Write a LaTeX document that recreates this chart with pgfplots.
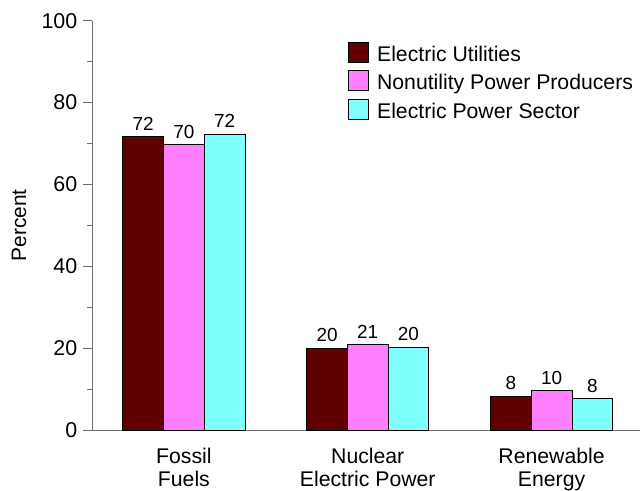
\documentclass[border=0pt]{standalone}
\usepackage{fontspec}
\setmainfont{Liberation Sans}
\usepackage{pgfplots}
\pgfplotsset{compat=1.18}

\definecolor{UtilFill}{HTML}{600000}
\definecolor{NonutilFill}{HTML}{FF80FF}
\definecolor{SectorFill}{HTML}{80FFFF}
\definecolor{AxisGray}{HTML}{6E6E6E}

\pgfplotsset{
  sqbar/.style={fill=#1, draw=black, line width=0.8bp,
    legend image code/.code={\draw[##1] (0bp,-1bp) rectangle (20.6bp,19bp);}},
}

\begin{document}
\begin{tikzpicture}
  \begin{axis}[
      scale only axis, width=548bp, height=409.3bp,
      ybar=0pt, bar width=40.7bp,
      xmin=-0.5, xmax=2.481, ymin=0, ymax=100,
      axis lines*=left,
      axis line style={AxisGray, line width=0.8bp},
      xtick={0,1,2},
      xticklabels={{Fossil\\Fuels},{Nuclear\\Electric Power},{Renewable\\Energy}},
      xtick style={draw=none},
      xticklabel style={align=center, font=\fontsize{21.3}{24}\selectfont, inner sep=0pt, yshift=-8.5bp},
      ytick={0,20,...,100}, minor y tick num=1,
      tick align=outside, major tick length=9bp, minor tick length=4.5bp,
      ytick style={AxisGray, line width=0.8bp},
      yticklabel style={font=\fontsize{21.5}{25}\selectfont, inner sep=0pt, xshift=-5.5bp},
      /pgf/number format/assume math mode=true,
      ylabel={Percent},
      ylabel style={font=\fontsize{21}{25}\selectfont, at={([xshift=-73bp]axis description cs:0,0.5)}, anchor=center},
      nodes near coords={\pgfmathprintnumber[fixed,precision=0,assume math mode=true]{\pgfplotspointmeta}},
      every node near coord/.append style={font=\fontsize{19}{22}\selectfont, inner sep=0pt, yshift=6bp, black},
      legend style={draw=none, fill=none, inner sep=0pt, outer sep=0pt,
        at={(axis description cs:0.4666,0.9487)}, anchor=north west,
        font=\fontsize{21.3}{25}\selectfont, row sep=4.3bp, column sep=8bp,
        nodes={inner sep=0pt, text height=15bp, text depth=5bp}},
      legend cell align=left,
      legend style={cells={anchor=base west}},
    ]
    \addplot[sqbar=UtilFill] coordinates {(0,71.7) (1,19.95) (2,8.3)};
    \addplot[sqbar=NonutilFill] coordinates {(0,69.7) (1,20.8) (2,9.6)};
    \addplot[sqbar=SectorFill] coordinates {(0,72.3) (1,20.2) (2,7.65)};
    \legend{Electric Utilities, Nonutility Power Producers, Electric Power Sector}
  \end{axis}
  \pgfresetboundingbox
  \path[use as bounding box] ([xshift=-92bp,yshift=-61bp]current axis.south west)
    rectangle ([yshift=20.7bp]current axis.north east);
\end{tikzpicture}
\end{document}
